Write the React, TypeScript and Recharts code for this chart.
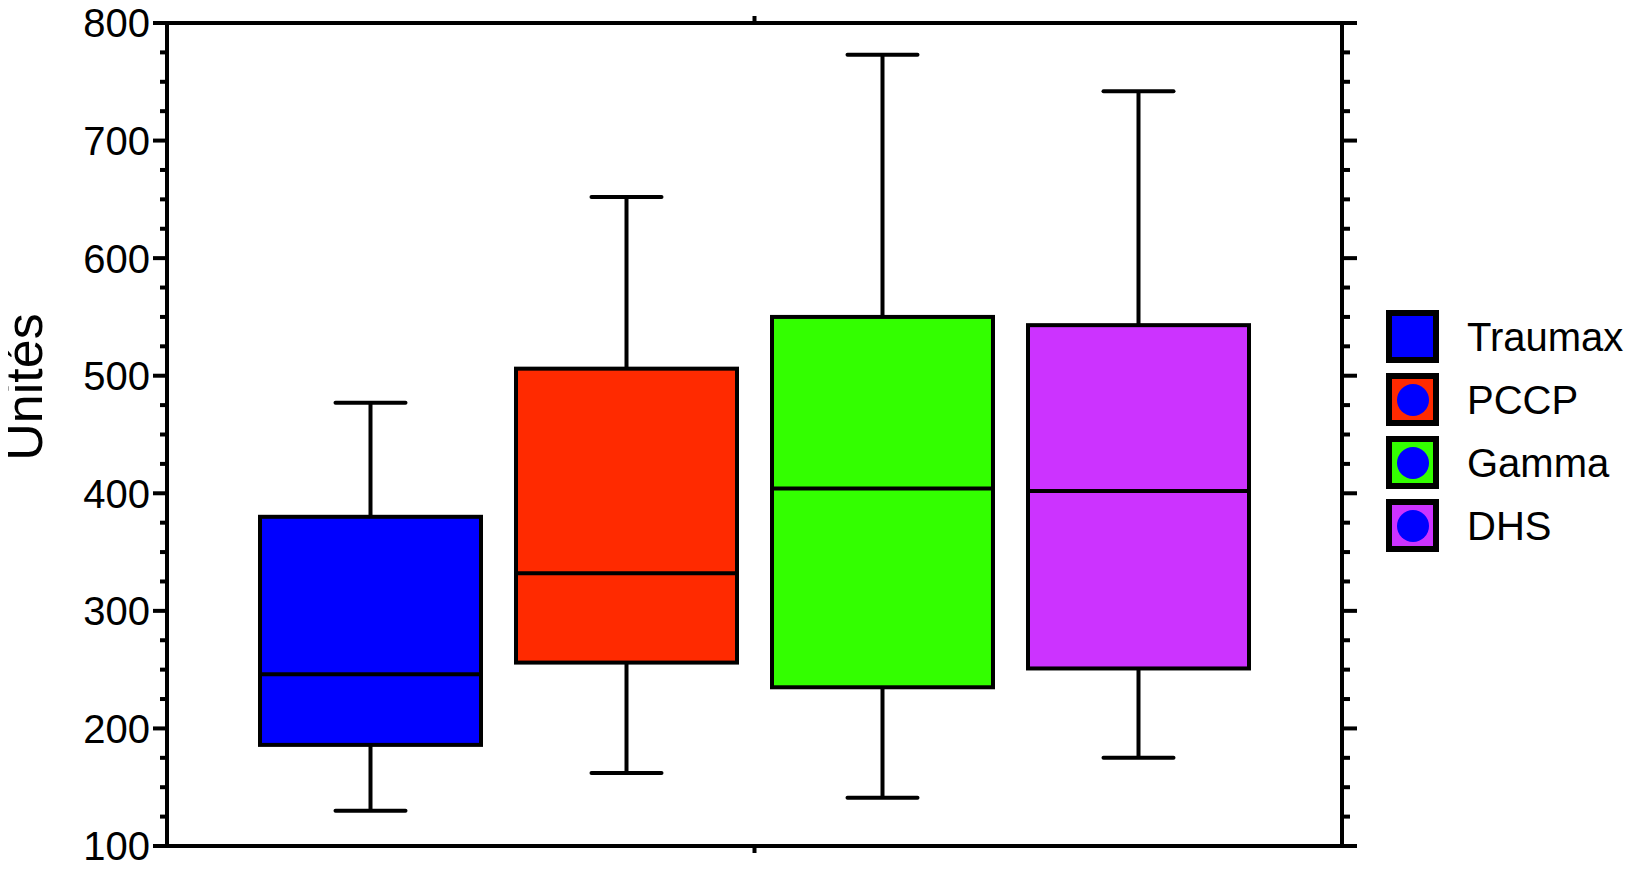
import React from 'react';
import { ComposedChart, Bar, XAxis, YAxis } from 'recharts';

// box plot statistics, one entry per group
const groups = ['Traumax', 'PCCP', 'Gamma', 'DHS'];
const mins = [130, 162, 141, 175];
const q1s = [186, 256, 235, 251];
const medians = [246, 332, 404, 402];
const q3s = [380, 506, 550, 543];
const maxs = [477, 652, 773, 742];
const colors = ['#0000ff', '#ff2a00', '#33ff00', '#cc33ff'];

const majorTicks = [100, 200, 300, 400, 500, 600, 700, 800];
const yTicks: number[] = [];
for (let v = 100; v <= 800; v += 25) yTicks.push(v);

const FONT = '"Liberation Sans", Arial, Helvetica, sans-serif';

const row: Record<string, any> = { name: 'all' };
groups.forEach((g, i) => {
  row[g] = [q1s[i], q3s[i]];
});
const data = [row];

const BoxShape = (props: any) => {
  const { x, y, width, height, idx } = props;
  const top = Math.min(y, y + height);
  const h = Math.abs(height);
  const ppu = h / (q3s[idx] - q1s[idx]);
  const cx = x + width / 2;
  const yMax = top - (maxs[idx] - q3s[idx]) * ppu;
  const yMin = top + h + (q1s[idx] - mins[idx]) * ppu;
  const yMed = top + (q3s[idx] - medians[idx]) * ppu;
  const cap = 35;
  return (
    <g>
      <line x1={cx} x2={cx} y1={yMax} y2={top} stroke="#000" strokeWidth={4} />
      <line x1={cx} x2={cx} y1={top + h} y2={yMin} stroke="#000" strokeWidth={4} />
      <line x1={cx - cap} x2={cx + cap} y1={yMax} y2={yMax} stroke="#000" strokeWidth={4} strokeLinecap="round" />
      <line x1={cx - cap} x2={cx + cap} y1={yMin} y2={yMin} stroke="#000" strokeWidth={4} strokeLinecap="round" />
      <rect x={x} y={top} width={width} height={h} fill={colors[idx]} stroke="#000" strokeWidth={4} />
      <line x1={x} x2={x + width} y1={yMed} y2={yMed} stroke="#000" strokeWidth={4} />
    </g>
  );
};

const LeftTick = (props: any) => {
  const { x, y, payload } = props;
  const major = majorTicks.includes(payload.value);
  return (
    <g>
      <line x1={x} x2={x - (major ? 14 : 7)} y1={y} y2={y} stroke="#000" strokeWidth={4} />
      {major && (
        <text x={x - 17} y={y} dy="0.36em" textAnchor="end" fontSize={40} fontFamily={FONT} fill="#000">
          {payload.value}
        </text>
      )}
    </g>
  );
};

const RightTick = (props: any) => {
  const { x, y, payload } = props;
  const major = majorTicks.includes(payload.value);
  return <line x1={x} x2={x + (major ? 15 : 8)} y1={y} y2={y} stroke="#000" strokeWidth={4} />;
};

const NoLabel = () => null;

const YLabel = () => (
  <text
    x={34}
    y={379}
    transform="rotate(-90, 34, 379)"
    textAnchor="middle"
    fontSize={52}
    fontFamily={FONT}
    fill="#000"
  >
    Unités
  </text>
);

const axisLine = { stroke: '#000', strokeWidth: 4, strokeLinecap: 'square' as const };

export default function App() {
  return (
    <div style={{ position: 'relative', width: 1616, height: 866 }}>
      <ComposedChart
        width={1616}
        height={866}
        data={data}
        margin={{ top: 0, right: 0, bottom: 0, left: 0 }}
        barCategoryGap={93}
        barGap={35}
        style={{ overflow: 'visible' }}
      >
        <XAxis
          dataKey="name"
          xAxisId="bottom"
          height={28}
          tick={<NoLabel />}
          tickSize={7}
          axisLine={axisLine}
          tickLine={{ stroke: '#000', strokeWidth: 4 }}
        />
        <XAxis
          dataKey="name"
          xAxisId="top"
          orientation="top"
          height={15}
          tick={<NoLabel />}
          tickSize={7}
          axisLine={axisLine}
          tickLine={{ stroke: '#000', strokeWidth: 4 }}
        />
        <YAxis
          yAxisId="left"
          width={159}
          domain={[100, 800]}
          allowDataOverflow
          ticks={yTicks}
          interval={0}
          tickSize={0}
          tickMargin={0}
          tickLine={false}
          axisLine={axisLine}
          tick={<LeftTick />}
          label={<YLabel />}
        />
        <YAxis
          yAxisId="right"
          orientation="right"
          width={282}
          domain={[100, 800]}
          allowDataOverflow
          ticks={yTicks}
          interval={0}
          tickSize={0}
          tickMargin={0}
          tickLine={false}
          axisLine={axisLine}
          tick={<RightTick />}
        />
        {groups.map((g, i) => (
          <Bar
            key={g}
            dataKey={g}
            xAxisId="bottom"
            yAxisId="left"
            fill={colors[i]}
            isAnimationActive={false}
            shape={(p: any) => <BoxShape {...p} idx={i} />}
          />
        ))}
      </ComposedChart>
      <div style={{ position: 'absolute', left: 1378, top: 302, fontFamily: FONT }}>
        {groups.map((g, i) => (
          <div key={g} style={{ display: 'flex', alignItems: 'center', height: 63, marginTop: i === 0 ? -5 : 0 }}>
            <div
              style={{
                width: 53,
                height: 53,
                boxSizing: 'border-box',
                border: '6px solid #000',
                background: colors[i],
                display: 'flex',
                alignItems: 'center',
                justifyContent: 'center',
              }}
            >
              {i > 0 && <div style={{ width: 32, height: 32, borderRadius: '50%', background: '#0000ff' }} />}
            </div>
            <span style={{ fontSize: 40, marginLeft: 28, lineHeight: 1 }}>{g}</span>
          </div>
        ))}
      </div>
    </div>
  );
}
